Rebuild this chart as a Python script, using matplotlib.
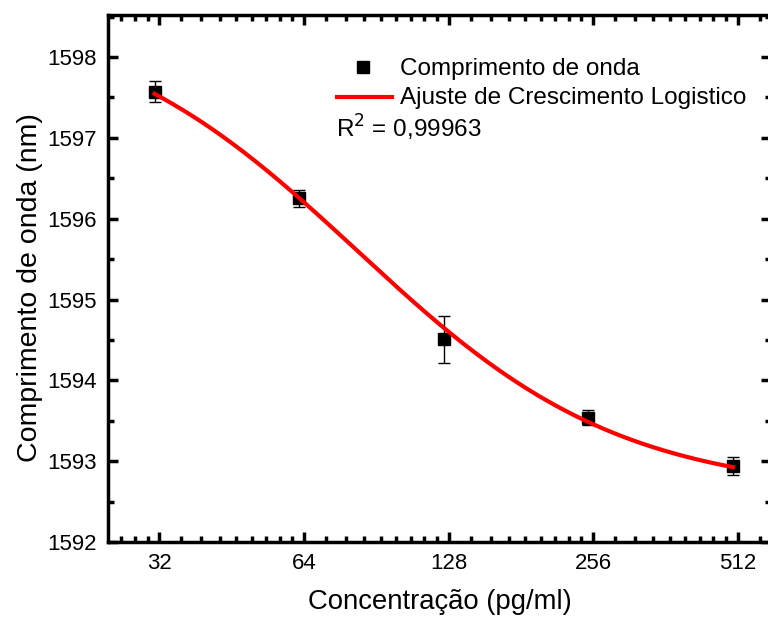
import numpy as np
import matplotlib
matplotlib.use("Agg")
import matplotlib.pyplot as plt
from matplotlib.ticker import FixedLocator, NullFormatter
from matplotlib.lines import Line2D

plt.rcParams['font.family'] = ['Liberation Sans', 'DejaVu Sans']

# Data
conc = [31.25, 62.5, 125, 250, 500]
wavelength = [1597.57, 1596.25, 1594.51, 1593.54, 1592.94]
errors = [0.13, 0.10, 0.29, 0.09, 0.11]

# Logistic growth fit parameters: y = A2 + (A1-A2)/(1+(x/x0)^p)
A1, A2, x0, p = 1598.6, 1592.6, 82.7, 1.587
r2_text = "R$^2$ = 0,99963"
series_label = 'Comprimento de onda'
fit_label = 'Ajuste de Crescimento Logistico'

xticks = [32, 64, 128, 256, 512]
xticklabels = ["32", "64", "128", "256", "512"]
yticks = [1592, 1593, 1594, 1595, 1596, 1597, 1598]

W, H = 768, 617
fig = plt.figure(figsize=(7.68, 6.17), dpi=100)
ax = fig.add_axes([108 / W, 1 - 542 / H, (771 - 108) / W, (542 - 15) / H])

ax.set_xscale('log', base=2)
ax.set_xlim(25, 600)
ax.set_ylim(1592, 1598.52)

xf = np.logspace(np.log2(conc[0]), np.log2(conc[-1]), 300, base=2)
yf = A2 + (A1 - A2) / (1 + (xf / x0) ** p)

ax.errorbar(conc, wavelength, yerr=errors, fmt='s', color='black', ms=8,
            ecolor='black', elinewidth=1, capsize=4, capthick=1, zorder=3)
ax.plot(xf, yf, color='#ff0000', lw=3, zorder=4)

ax.xaxis.set_major_locator(FixedLocator(xticks))
ax.set_xticklabels(xticklabels)
minors = []
for a in [16] + xticks:
    for k in range(1, 9):
        minors.append(a + a * k / 9)
ax.xaxis.set_minor_locator(FixedLocator(minors))
ax.xaxis.set_minor_formatter(NullFormatter())
ax.yaxis.set_major_locator(FixedLocator(yticks))
ax.yaxis.set_minor_locator(FixedLocator([v + 0.5 for v in yticks]))

for s in ax.spines.values():
    s.set_linewidth(2.5)
ax.tick_params(which='major', direction='in', length=7, width=2.5,
               top=True, right=True, labelsize=16, pad=8)
ax.tick_params(which='minor', direction='in', length=4, width=2.5,
               top=True, right=True)

ax.set_xlabel('Concentração (pg/ml)', fontsize=19.8)
ax.set_ylabel('Comprimento de onda (nm)', fontsize=20.5)
ax.xaxis.set_label_coords(0.5, -0.089)
ax.yaxis.set_label_coords(-0.098, 0.482)

# Legend (manual, in figure pixel coordinates)
def fx(px):
    return px / W

def fy(py):
    return 1 - py / H

fig.add_artist(Line2D([fx(363)], [fy(67)], marker='s', color='black', ms=8,
                      linestyle='none', transform=fig.transFigure))
fig.add_artist(Line2D([fx(337), fx(392)], [fy(97), fy(97)], color='#ff0000',
                      lw=3, transform=fig.transFigure))
fig.text(fx(400), fy(75), series_label, fontsize=17.5, ha='left', va='baseline')
fig.text(fx(400), fy(104), fit_label, fontsize=17.5, ha='left', va='baseline')
fig.text(fx(336), fy(138), r2_text, fontsize=17.5, ha='left', va='baseline')

fig.savefig('out.png', dpi=100)
